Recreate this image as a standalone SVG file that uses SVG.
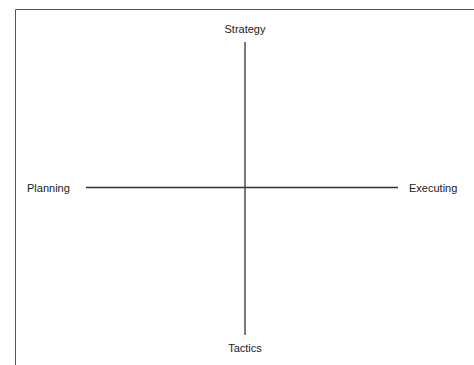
<svg xmlns="http://www.w3.org/2000/svg" width="474" height="365" viewBox="0 0 474 365">
<style>
text{font-family:"Liberation Sans",Arial,sans-serif;font-size:11px;fill:#222}
.ax{stroke:#333;stroke-width:1.3;fill:none}
</style>
<rect width="474" height="365" fill="#fff"/>
<path d="M15.5 365 V9.5 H474" fill="none" stroke="#555" stroke-width="1"/>
<g id="connectors">
<line class="ax" x1="245" y1="42" x2="245" y2="335"/>
<line class="ax" x1="86" y1="187.5" x2="398" y2="187.5"/>
</g>
<g id="strategy"><text x="245" y="33" text-anchor="middle">Strategy</text></g>
<g id="planning"><text x="27" y="191.5">Planning</text></g>
<g id="executing"><text x="409" y="191.5">Executing</text></g>
<g id="tactics"><text x="245" y="352" text-anchor="middle">Tactics</text></g>
</svg>
